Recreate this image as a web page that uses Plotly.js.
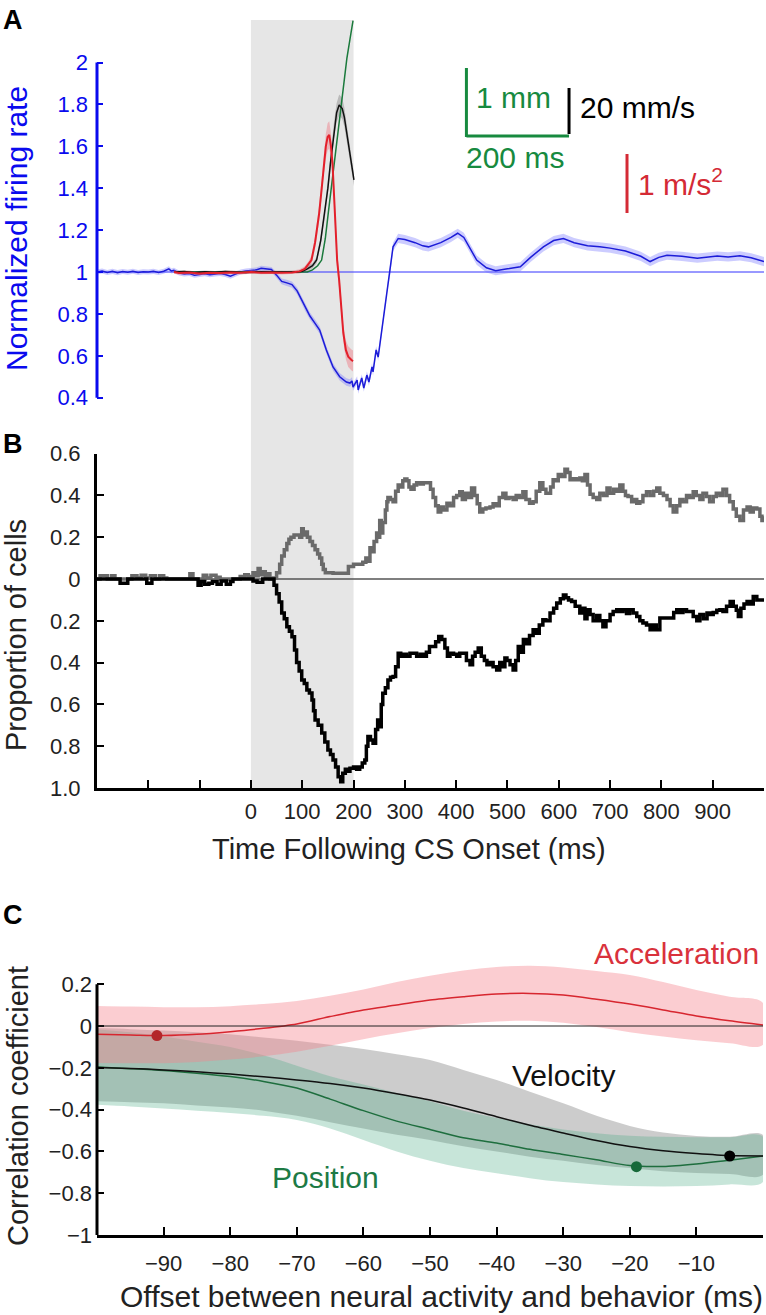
<!DOCTYPE html>
<html><head><meta charset="utf-8">
<script src="https://cdn.plot.ly/plotly-3.0.1.min.js"></script>
<style>html,body{margin:0;padding:0;background:#fff}</style>
</head><body><div id="chart" style="width:766px;height:1315px"></div>
<script>
// ---------- Panel A: normalized firing rate & behaviour ----------
const blueT = [-300,-290,-280,-270,-260,-250,-240,-230,-220,-210,-200,-190,-180,-170,-160,-155,-150,-140,-130,-120,-110,-100,-90,-80,-70,-60,-50,-40,-30,-20,-10,0,10,20,30,40,50,60,70,80,90,96,106,115,125,134,147,160,173,186,193,197,199,207,209,216,220,226,230,236,238,244,248,255,261,265,271,277,287,300,320,335,346,370,390,403,415,440,459,477,500,525,545,570,590,609,630,656,680,700,730,760,778,795,811,840,870,890,909,930,953,975,1000];
const blueV = [1.0,1.005,0.998,1.003,0.997,1.002,0.999,1.004,0.998,1.001,1.0,1.003,0.998,1.004,1.015,1.005,1.008,0.995,0.99,0.993,0.985,0.99,0.992,0.987,0.99,0.993,0.988,0.98,0.99,1.0,1.005,1.008,1.01,1.018,1.015,1.012,0.985,0.955,0.948,0.94,0.91,0.882,0.83,0.79,0.755,0.723,0.628,0.547,0.5,0.475,0.47,0.48,0.451,0.484,0.437,0.494,0.446,0.508,0.475,0.547,0.523,0.628,0.594,0.723,0.833,0.914,1.0,1.12,1.16,1.155,1.14,1.125,1.12,1.14,1.165,1.185,1.165,1.057,1.02,1.006,1.015,1.025,1.07,1.12,1.15,1.16,1.14,1.125,1.12,1.114,1.1,1.075,1.05,1.07,1.08,1.075,1.066,1.07,1.076,1.072,1.077,1.068,1.05];
const blueSE = [0.012,0.012,0.012,0.012,0.012,0.012,0.012,0.012,0.012,0.012,0.012,0.012,0.012,0.012,0.012,0.012,0.012,0.012,0.012,0.012,0.012,0.012,0.012,0.012,0.012,0.012,0.012,0.012,0.012,0.012,0.012,0.012,0.012,0.012,0.012,0.012,0.014,0.014,0.015,0.015,0.016,0.016,0.017,0.017,0.018,0.018,0.018,0.018,0.018,0.018,0.018,0.018,0.018,0.018,0.018,0.018,0.018,0.018,0.018,0.018,0.018,0.018,0.018,0.018,0.018,0.018,0.02,0.02,0.022,0.022,0.022,0.022,0.022,0.022,0.022,0.022,0.022,0.022,0.022,0.022,0.022,0.022,0.022,0.022,0.022,0.022,0.022,0.022,0.022,0.022,0.022,0.022,0.022,0.022,0.022,0.022,0.022,0.022,0.022,0.022,0.022,0.022,0.022];

const accT = [-150,-140,-120,-100,-80,-60,-40,-20,0,20,40,60,80,95,105,112,118,125,133,138,142,146,149.5,152.7,156,159,163.7,168,172,173.5,176.8,180,185,189.7,196,199];
const accV = [1.0,0.995,0.998,0.993,0.997,0.995,0.998,0.996,1.0,0.997,0.998,0.996,0.998,1.003,1.015,1.035,1.057,1.14,1.28,1.4,1.52,1.6,1.645,1.655,1.6,1.52,1.28,1.057,0.96,0.914,0.82,0.71,0.628,0.596,0.58,0.575];
const accSE = [0.008,0.008,0.008,0.008,0.008,0.008,0.008,0.008,0.008,0.008,0.008,0.008,0.008,0.01,0.012,0.015,0.02,0.03,0.04,0.05,0.055,0.06,0.065,0.065,0.06,0.055,0.05,0.045,0.04,0.04,0.04,0.04,0.045,0.05,0.05,0.05];

const velT = [-150,-130,-110,-90,-70,-50,-30,-10,10,30,50,70,90,100,110,120,128,136,144,150,155,162,167,172,178,182,186,193,200.8];
const velV = [1.0,1.002,0.998,1.001,0.999,1.002,1.0,0.998,1.001,1.0,1.0,1.001,1.0,1.004,1.015,1.03,1.057,1.15,1.28,1.4,1.52,1.678,1.76,1.797,1.78,1.74,1.678,1.56,1.44];
const velSE = [0.006,0.006,0.006,0.006,0.006,0.006,0.006,0.006,0.006,0.006,0.006,0.006,0.006,0.008,0.01,0.012,0.015,0.02,0.025,0.03,0.035,0.04,0.045,0.05,0.05,0.045,0.04,0.035,0.03];

const posT = [-150,-120,-90,-60,-30,0,30,60,90,110,120,130,137.8,145,150.7,157,162.4,169,175,181,187,193,199];
const posV = [1.0,1.0,1.001,0.999,1.0,1.0,1.0,1.0,1.0,1.0,1.01,1.03,1.057,1.16,1.28,1.41,1.52,1.67,1.8,1.91,2.02,2.11,2.2];

const rateTicks = [0.4,0.6,0.8,1,1.2,1.4,1.6,1.8,2];
const rateTickText = ['0.4','0.6','0.8','1','1.2','1.4','1.6','1.8','2'];

// ---------- Panel B: proportion of cells ----------
const excT = [-300,-294,-280,-272,-265,-232,-222,-214,-205,-196,
  -186,-178,-170,-164,-119,-113,-93,-86,-78,-68,
  -60,-21,-12,-5,4,10,14,18,22,28,
  33,37,44,50,56,60,65,70,74,78,
  84,90,95,99,102,106,110,115,120,125,
  130,134,138,141,145,160,172,187,190,200,
  212,218,224,228,232,236,240,245,248,251,
  254,257,262,265,267,272,277,282,287,292,
  296,300,304,308,312,318,323,330,336,343,
  350,355,360,365,370,375,382,388,395,401,
  407,412,418,424,430,436,441,446,452,458,
  466,472,478,484,491,497,503,511,517,523,
  530,536,543,550,556,563,569,575,579,584,
  589,594,599,605,612,617,622,628,634,641,
  646,651,656,661,667,674,680,687,694,700,
  707,713,719,725,730,735,742,748,752,758,
  764,771,778,785,791,797,804,811,817,823,
  830,836,842,849,855,862,868,875,881,888,
  894,901,907,914,920,927,933,940,946,953,
  960,967,973,979,986,992,996,1000];
const excP = [0,0.015,0,0.015,0,0.015,0.005,0.018,0.005,0.015,
  0,0.015,0.005,0,0.025,0,0.018,0.005,0.018,0.008,
  0,0.012,0.02,0.012,0.03,0.015,0.05,0.02,0.035,0.012,
  0.025,0,0.005,0.03,0.07,0.11,0.14,0.17,0.19,0.2,
  0.21,0.21,0.2,0.24,0.21,0.225,0.2,0.18,0.16,0.14,
  0.12,0.1,0.07,0.045,0.03,0.028,0.028,0.028,0.06,0.07,
  0.07,0.08,0.1,0.085,0.15,0.13,0.18,0.22,0.2,0.28,
  0.22,0.27,0.33,0.37,0.39,0.38,0.37,0.42,0.45,0.44,
  0.47,0.478,0.47,0.44,0.43,0.45,0.46,0.455,0.46,0.46,
  0.43,0.39,0.35,0.32,0.345,0.33,0.363,0.35,0.39,0.4,
  0.417,0.38,0.41,0.39,0.435,0.4,0.36,0.32,0.335,0.34,
  0.345,0.36,0.35,0.39,0.41,0.385,0.39,0.38,0.4,0.39,
  0.417,0.38,0.363,0.37,0.42,0.46,0.43,0.41,0.41,0.44,
  0.475,0.47,0.5,0.49,0.525,0.51,0.475,0.48,0.475,0.483,
  0.47,0.5,0.45,0.405,0.39,0.38,0.41,0.4,0.435,0.41,
  0.43,0.42,0.45,0.42,0.4,0.395,0.37,0.38,0.363,0.37,
  0.4,0.417,0.4,0.42,0.435,0.41,0.4,0.38,0.35,0.32,
  0.35,0.38,0.37,0.4,0.39,0.417,0.4,0.38,0.41,0.395,
  0.37,0.395,0.41,0.4,0.43,0.4,0.37,0.335,0.3,0.28,
  0.33,0.345,0.32,0.34,0.335,0.3,0.28,0.3];

const inhT = [-300,-255,-240,-203,-193,-103,-97,-90,-82,-75,
  -66,-58,-48,-40,-35,4,12,23,41,45,
  50,55,60,65,70,75,80,85,89,94,
  99,104,109,114,119,122,125,131,138,144,
  150,155,160,165,170,175,179,184,188,193,
  200,206,212,217,222,225,228,233,238,243,
  247,251,254,257,262,267,272,277,282,287,
  292,297,303,310,316,323,330,336,342,348,
  355,360,366,372,378,383,388,395,401,407,
  414,420,427,432,437,443,449,455,460,466,
  472,479,485,490,495,499,505,511,516,521,
  526,531,537,543,550,556,562,569,575,583,
  590,596,603,609,614,619,625,632,641,647,
  651,655,661,667,674,680,686,692,700,706,
  713,719,725,732,738,745,752,758,764,771,
  778,784,790,797,804,811,817,824,830,836,
  842,849,856,862,869,875,882,889,895,901,
  908,914,920,927,934,940,946,950,955,961,
  967,973,979,986,992,1000];
const inhP = [0,0.02,0,0.02,0,0.03,0.012,0.025,0.02,0.012,
  0.025,0.01,0.025,0.012,0,0.01,0.015,0,0,0.03,
  0.07,0.11,0.163,0.19,0.228,0.25,0.276,0.34,0.4,0.44,
  0.483,0.5,0.531,0.545,0.579,0.63,0.675,0.7,0.737,0.78,
  0.818,0.84,0.866,0.9,0.946,0.97,0.93,0.91,0.92,0.905,
  0.9,0.91,0.9,0.88,0.866,0.8,0.754,0.77,0.786,0.72,
  0.675,0.707,0.6,0.547,0.52,0.483,0.47,0.467,0.42,0.355,
  0.37,0.36,0.37,0.355,0.355,0.37,0.36,0.37,0.35,0.323,
  0.323,0.3,0.275,0.29,0.33,0.37,0.355,0.36,0.37,0.355,
  0.355,0.39,0.41,0.37,0.35,0.33,0.37,0.39,0.41,0.4,
  0.42,0.435,0.4,0.42,0.378,0.39,0.41,0.435,0.39,0.323,
  0.35,0.29,0.31,0.27,0.243,0.26,0.22,0.195,0.2,0.163,
  0.14,0.115,0.095,0.076,0.09,0.1,0.108,0.13,0.163,0.14,
  0.19,0.147,0.17,0.2,0.175,0.2,0.228,0.2,0.17,0.155,
  0.147,0.155,0.147,0.165,0.147,0.163,0.18,0.2,0.211,0.22,
  0.243,0.22,0.243,0.187,0.187,0.187,0.187,0.16,0.147,0.16,
  0.147,0.155,0.155,0.18,0.2,0.17,0.19,0.163,0.17,0.16,
  0.15,0.147,0.155,0.13,0.108,0.13,0.15,0.179,0.14,0.12,
  0.108,0.12,0.084,0.1,0.1,0.1];

const timeTicks = [0,100,200,300,400,500,600,700,800,900];
const timeMinorTicks = [-200,-100,1000];
const propTicks = [-1,-0.8,-0.6,-0.4,-0.2,0,0.2,0.4,0.6];
const propTickText = ['1.0','0.8','0.6','0.4','0.2','0','0.2','0.4','0.6'];

// ---------- Panel C: correlation vs offset ----------
const lag = [-100,-95,-90,-85,-80,-75,-70,-65,-60,-55,-50,-45,-40,-35,-30,-25,-20,-15,-10,-5,0];
const accR  = [-0.04,-0.043,-0.046,-0.04,-0.027,-0.011,0.01,0.045,0.077,0.1,0.124,0.14,0.153,0.156,0.148,0.128,0.105,0.077,0.048,0.025,0.005];
const accHi = [0.096,0.093,0.09,0.09,0.095,0.105,0.12,0.145,0.175,0.21,0.24,0.265,0.282,0.288,0.28,0.263,0.244,0.21,0.172,0.14,0.11];
const accLo = [-0.177,-0.178,-0.178,-0.172,-0.16,-0.145,-0.123,-0.095,-0.063,-0.035,-0.01,0.01,0.022,0.025,0.015,-0.005,-0.03,-0.05,-0.068,-0.082,-0.09];
const velR  = [-0.198,-0.203,-0.21,-0.219,-0.23,-0.243,-0.258,-0.275,-0.297,-0.324,-0.354,-0.392,-0.434,-0.475,-0.512,-0.548,-0.577,-0.597,-0.61,-0.62,-0.622];
const velHi = [-0.01,-0.015,-0.022,-0.03,-0.04,-0.055,-0.07,-0.09,-0.11,-0.135,-0.163,-0.21,-0.258,-0.315,-0.37,-0.43,-0.478,-0.51,-0.526,-0.53,-0.522];
const velLo = [-0.36,-0.365,-0.37,-0.38,-0.39,-0.405,-0.43,-0.46,-0.49,-0.52,-0.545,-0.575,-0.6,-0.625,-0.645,-0.665,-0.68,-0.695,-0.703,-0.708,-0.712];
const posR  = [-0.196,-0.204,-0.213,-0.226,-0.242,-0.265,-0.297,-0.35,-0.405,-0.455,-0.495,-0.535,-0.56,-0.59,-0.615,-0.64,-0.668,-0.672,-0.66,-0.642,-0.622];
const posHi = [-0.015,-0.03,-0.05,-0.075,-0.1,-0.14,-0.19,-0.24,-0.28,-0.32,-0.36,-0.405,-0.44,-0.47,-0.495,-0.513,-0.525,-0.53,-0.532,-0.532,-0.53];
const posLo = [-0.377,-0.385,-0.395,-0.405,-0.416,-0.43,-0.45,-0.49,-0.545,-0.6,-0.645,-0.68,-0.705,-0.728,-0.747,-0.758,-0.766,-0.768,-0.766,-0.758,-0.747];
const peakLag = [-91,-5,-19];
const peakR = [-0.046,-0.622,-0.673];
const peakColors = ['#b3262a','#000000','#17693a'];
const lagTicks = [-90,-80,-70,-60,-50,-40,-30,-20,-10,0];
const corrTicks = [-1,-0.8,-0.6,-0.4,-0.2,0,0.2];

// ---------- helpers ----------
const W = 766, H = 1315;
const px = v => v / W;
const py = v => 1 - v / H;
const FONT = 'Liberation Sans, Arial, Helvetica, sans-serif';
const BLUE = '#0a0aee';

function band(xs, lo, hi, color, xa, ya, shape) {
  return {x: xs.concat(xs.slice().reverse()), y: hi.concat(lo.slice().reverse()),
    type: 'scatter', mode: 'lines', fill: 'toself', fillcolor: color,
    line: {width: 0, shape: shape || 'linear'}, hoverinfo: 'skip', xaxis: xa, yaxis: ya};
}
function seBand(xs, v, se, color, xa, ya) {
  return band(xs, v.map((a, i) => a - se[i]), v.map((a, i) => a + se[i]), color, xa, ya);
}
function line(xs, ys, color, w, xa, ya, shape) {
  return {x: xs, y: ys, type: 'scatter', mode: 'lines',
    line: {color: color, width: w, shape: shape || 'linear', smoothing: 0.8},
    hoverinfo: 'skip', xaxis: xa, yaxis: ya};
}
function label(text, x, y, size, color, extra) {
  return Object.assign({text: text, x: px(x), y: py(y), xref: 'paper', yref: 'paper',
    xanchor: 'center', yanchor: 'middle', showarrow: false,
    font: {family: FONT, size: size, color: color}}, extra || {});
}

const traces = [
  // Panel A
  seBand(blueT, blueV, blueSE, 'rgba(110,110,255,0.35)', 'x', 'y'),
  line(blueT, blueV, '#1c1cd8', 1.5, 'x', 'y'),
  seBand(accT, accV, accSE, 'rgba(240,120,130,0.45)', 'x', 'y'),
  seBand(velT, velV, velSE, 'rgba(120,120,120,0.4)', 'x', 'y'),
  line(posT, posV, '#1b7a3c', 1.5, 'x', 'y'),
  line(velT, velV, '#111111', 1.5, 'x', 'y'),
  line(accT, accV, '#e3202b', 2, 'x', 'y'),
  // Panel B
  line(excT, excP, '#6a6a6a', 3.5, 'x2', 'y2', 'hv'),
  line(inhT, inhP.map(v => -v), '#000000', 3.5, 'x2', 'y2', 'hv'),
  // Panel C
  band(lag, velLo, velHi, 'rgba(128,128,128,0.4)', 'x3', 'y3', 'spline'),
  band(lag, posLo, posHi, 'rgba(70,170,130,0.3)', 'x3', 'y3', 'spline'),
  band(lag, accLo, accHi, 'rgba(245,130,140,0.4)', 'x3', 'y3', 'spline'),
  line(lag, posR, '#1e6e3e', 1.5, 'x3', 'y3', 'spline'),
  line(lag, velR, '#111111', 1.5, 'x3', 'y3', 'spline'),
  line(lag, accR, '#d7262f', 1.5, 'x3', 'y3', 'spline'),
  {x: peakLag, y: peakR, type: 'scatter', mode: 'markers',
   marker: {color: peakColors, size: 11}, hoverinfo: 'skip', xaxis: 'x3', yaxis: 'y3'}
];

const tickFont = {family: FONT, size: 22, color: '#222'};
const layout = {
  width: W, height: H, margin: {l: 0, r: 0, t: 0, b: 0},
  paper_bgcolor: '#fff', plot_bgcolor: 'rgba(0,0,0,0)', showlegend: false,
  font: {family: FONT},
  xaxis: {domain: [px(97), px(764)], range: [-300, 1000], anchor: 'y', visible: false, fixedrange: true},
  yaxis: {domain: [py(401.9), py(18.5)], range: [0.38, 2.21], anchor: 'x',
    tickvals: rateTicks, ticktext: rateTickText, ticks: 'inside', ticklen: 6, tickwidth: 2,
    tickcolor: BLUE, tickfont: {family: FONT, size: 22, color: BLUE}, ticklabelstandoff: 8,
    showline: false, showgrid: false, zeroline: false, fixedrange: true},
  xaxis2: {domain: [px(97), px(764)], range: [-300, 1000], anchor: 'y2',
    tickvals: timeTicks, ticks: 'inside', ticklen: 8, tickwidth: 2, tickcolor: '#000',
    minor: {tickvals: timeMinorTicks, ticks: 'inside', ticklen: 8, tickwidth: 2, tickcolor: '#000', showgrid: false},
    tickfont: tickFont, ticklabelstandoff: 2, showline: true, linewidth: 3, linecolor: '#000', showgrid: false, zeroline: false, fixedrange: true},
  yaxis2: {domain: [py(788), py(453.6)], range: [-1, 0.6], anchor: 'x2',
    tickvals: propTicks, ticktext: propTickText, ticks: 'inside', ticklen: 7, tickwidth: 2, tickcolor: '#000',
    tickfont: tickFont, ticklabelstandoff: 9, showline: true, linewidth: 3, linecolor: '#000',
    showgrid: false, zeroline: false, fixedrange: true},
  xaxis3: {domain: [px(97), px(763)], range: [-100, 0], anchor: 'y3',
    tickvals: lagTicks, ticks: 'inside', ticklen: 8, tickwidth: 2, tickcolor: '#000',
    tickfont: tickFont, ticklabelstandoff: 7, showline: true, linewidth: 3, linecolor: '#000', showgrid: false, zeroline: false, fixedrange: true},
  yaxis3: {domain: [py(1235), py(963.3)], range: [-1, 0.3], anchor: 'x3',
    tickvals: corrTicks, ticks: 'inside', ticklen: 7, tickwidth: 2, tickcolor: '#000',
    tickfont: tickFont, ticklabelstandoff: 4, showline: false, showgrid: false, zeroline: false, fixedrange: true},
  shapes: [
    // CS window shading across A and B
    {type: 'rect', xref: 'x', yref: 'paper', x0: 0, x1: 200, y0: py(788), y1: py(20),
     fillcolor: '#e6e6e6', line: {width: 0}, layer: 'below'},
    // baseline references
    {type: 'line', xref: 'x', yref: 'y', x0: -300, x1: 1000, y0: 1, y1: 1, line: {color: '#3333ff', width: 1}, layer: 'below'},
    {type: 'line', xref: 'x2', yref: 'y2', x0: -300, x1: 1000, y0: 0, y1: 0, line: {color: '#555', width: 1.5}, layer: 'below'},
    {type: 'line', xref: 'x3', yref: 'y3', x0: -100, x1: 0, y0: 0, y1: 0, line: {color: '#222', width: 1}, layer: 'above'},
    // partial y axis lines
    {type: 'line', xref: 'paper', yref: 'y', x0: px(97), x1: px(97), y0: 0.4, y1: 2.0, line: {color: BLUE, width: 3}},
    {type: 'line', xref: 'paper', yref: 'y3', x0: px(97), x1: px(97), y0: -1, y1: 0.2, line: {color: '#000', width: 3}},
    // scale bars
    {type: 'line', xref: 'x', yref: 'paper', x0: 420, x1: 420, y0: py(68), y1: py(137), line: {color: '#178a3f', width: 3}},
    {type: 'line', xref: 'x', yref: 'paper', x0: 420, x1: 620, y0: py(136), y1: py(136), line: {color: '#178a3f', width: 3}},
    {type: 'line', xref: 'x', yref: 'paper', x0: 620, x1: 620, y0: py(88), y1: py(134), line: {color: '#000', width: 3}},
    {type: 'line', xref: 'x', yref: 'paper', x0: 733, x1: 733, y0: py(154), y1: py(213), line: {color: '#d42a35', width: 3}}
  ],
  annotations: [
    label('<b>A</b>', 13, 20, 27, '#000'),
    label('<b>B</b>', 13, 444, 27, '#000'),
    label('<b>C</b>', 13, 915, 27, '#000'),
    label('Normalized firing rate', 16, 229, 30, BLUE, {textangle: -90}),
    label('Proportion of cells', 16, 635, 29, '#222', {textangle: -90}),
    label('Time Following CS Onset (ms)', 409, 849, 29, '#222'),
    label('Correlation coefficient', 18, 1106, 29, '#222', {textangle: -90}),
    label('Offset between neural activity and behavior (ms)', 441, 1296, 30, '#222'),
    label('1 mm', 513, 98, 30, '#178a3f'),
    label('20 mm/s', 637, 108, 30, '#000'),
    label('200 ms', 515, 157, 30, '#178a3f'),
    label('1 m/s<sup>2</sup>', 636, 182, 30, '#d42a35', {xanchor: 'left'}),
    label('Acceleration', 676, 953, 30, '#d9323c'),
    label('Velocity', 563, 1075, 30, '#111'),
    label('Position', 325, 1177, 30, '#1d7a45')
  ]
};

Plotly.newPlot('chart', traces, layout, {staticPlot: true, displayModeBar: false});
</script></body></html>
